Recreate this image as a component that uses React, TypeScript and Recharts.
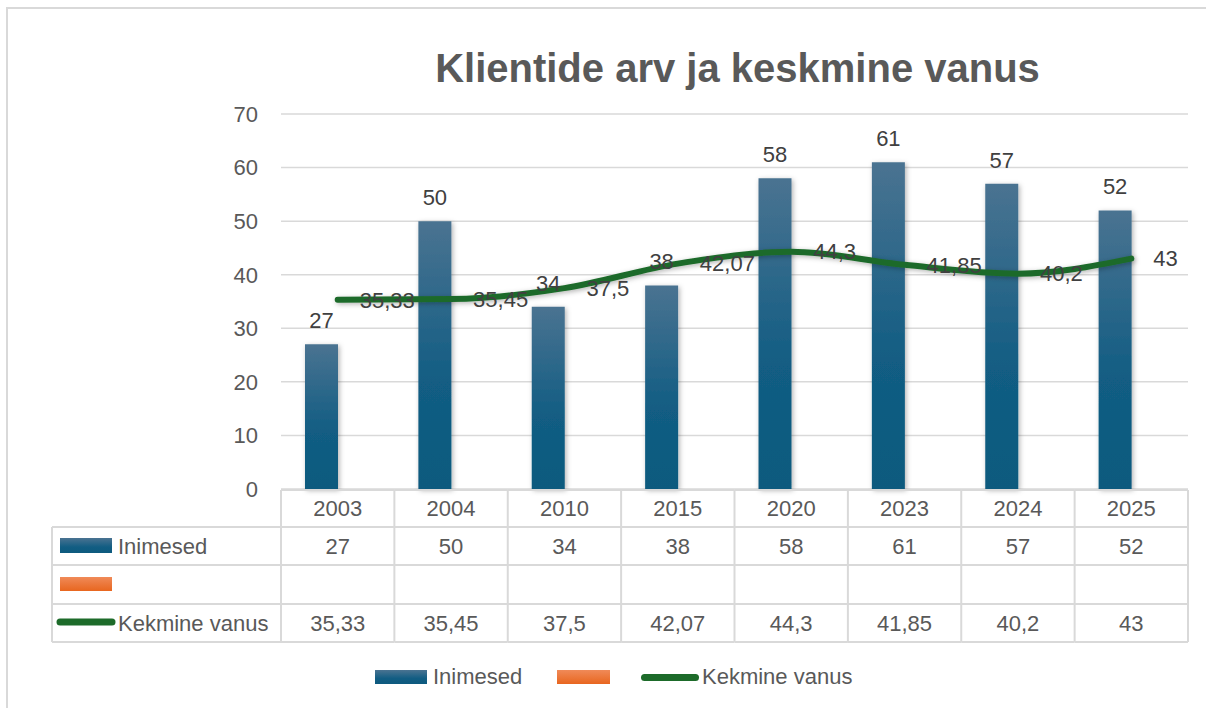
import { ComposedChart, Bar, Line, XAxis, YAxis, CartesianGrid, LabelList, Legend } from 'recharts';

const years = ['2003', '2004', '2010', '2015', '2020', '2023', '2024', '2025'];
const inimesed = [27, 50, 34, 38, 58, 61, 57, 52];
const tyhi = [null, null, null, null, null, null, null, null];
const keskmineVanus = [35.33, 35.45, 37.5, 42.07, 44.3, 41.85, 40.2, 43];
const yTicks = [0, 10, 20, 30, 40, 50, 60, 70];
const seriesNames = ['Inimesed', '', 'Kekmine vanus'];

const data = years.map((year, i) => ({
    year,
    inimesed: inimesed[i],
    tyhi: tyhi[i],
    vanus: keskmineVanus[i],
}));

const W = 1206;
const H = 708;
const PLOT_LEFT = 281;
const PLOT_RIGHT = 1188;
const COL = (PLOT_RIGHT - PLOT_LEFT) / years.length;
const ROWS = [0, 37, 75, 114, 152];
const GRID = '#d9d9d9';
const TEXT = '#595959';
const LABEL = '#404040';
const GREEN = '#1d6b2a';
const FONT = '"Liberation Sans", Arial, sans-serif';
const FS = 22;

const fmt = (v: any) => String(v).replace('.', ',');

const TableTick = (props: any) => {
    const { x, y, payload, index } = props;
    const i = payload?.index ?? index;
    const top = y + 1;
    const left = x - COL / 2;
    const right = x + COL / 2;
    const last = i === years.length - 1;
    const cellText = (txt: string, cy: number) => (
        <text x={x} y={cy} dy="0.35em" textAnchor="middle" fontSize={FS} fill={TEXT}>{txt}</text>
    );
    return (
        <g>
            {ROWS.map((r) => (
                <line key={`h${r}`} x1={left} x2={right} y1={top + r} y2={top + r} stroke={GRID} strokeWidth={2} />
            ))}
            <line x1={left} x2={left} y1={top} y2={top + ROWS[4]} stroke={GRID} strokeWidth={2} />
            {last && <line x1={right} x2={right} y1={top} y2={top + ROWS[4]} stroke={GRID} strokeWidth={2} />}
            {cellText(years[i], top + 18)}
            {cellText(fmt(inimesed[i]), top + 56)}
            {cellText(tyhi[i] == null ? '' : fmt(tyhi[i]), top + 95)}
            {cellText(fmt(keskmineVanus[i]), top + 133)}
            {i === 0 && (
                <g>
                    {ROWS.slice(1).map((r) => (
                        <line key={`l${r}`} x1={52} x2={left} y1={top + r} y2={top + r} stroke={GRID} strokeWidth={2} />
                    ))}
                    <line x1={52} x2={52} y1={top + ROWS[1]} y2={top + ROWS[4]} stroke={GRID} strokeWidth={2} />
                    <rect x={60} y={top + 48} width={52} height={15} fill="url(#blueGrad)" />
                    <text x={118} y={top + 56} dy="0.35em" fontSize={FS} fill={TEXT}>{seriesNames[0]}</text>
                    <rect x={60} y={top + 87} width={52} height={14} fill="url(#orangeGrad)" />
                    <line x1={60} x2={112} y1={top + 132} y2={top + 132} stroke={GREEN} strokeWidth={7} strokeLinecap="round" />
                    <text x={118} y={top + 133} dy="0.35em" fontSize={FS} fill={TEXT}>{seriesNames[2]}</text>
                </g>
            )}
        </g>
    );
};

const LegendBox = () => (
    <div style={{ position: 'relative', width: W, height: 30, fontFamily: FONT, fontSize: FS, color: TEXT }}>
        <div style={{ position: 'absolute', left: 375, top: 8, width: 52, height: 14, background: 'linear-gradient(#4a7391, #125d83 60%, #0d5a7e)' }} />
        <div style={{ position: 'absolute', left: 433, top: 2, lineHeight: '26px' }}>{seriesNames[0]}</div>
        <div style={{ position: 'absolute', left: 557, top: 8, width: 53, height: 14, background: 'linear-gradient(#f08a58, #e8661f)' }} />
        <div style={{ position: 'absolute', left: 641, top: 12, width: 58, height: 7, borderRadius: 4, background: GREEN }} />
        <div style={{ position: 'absolute', left: 702, top: 2, lineHeight: '26px' }}>{seriesNames[2]}</div>
    </div>
);

export default function App() {
    return (
        <div style={{ position: 'absolute', left: 0, top: 0, width: W, height: H, overflow: 'hidden', background: '#fff', fontFamily: FONT }}>
            <div style={{ position: 'absolute', left: 6, top: 7, width: W + 20, height: H + 20, border: `2px solid ${GRID}` }} />
            <div style={{ position: 'absolute', left: PLOT_LEFT, width: PLOT_RIGHT - PLOT_LEFT + 6, top: 48, textAlign: 'center', fontSize: 40, lineHeight: '40px', fontWeight: 'bold', color: TEXT }}>
                Klientide arv ja keskmine vanus
            </div>
            <ComposedChart
                width={W}
                height={H}
                data={data}
                margin={{ top: 114, right: W - PLOT_RIGHT, left: PLOT_LEFT - 60, bottom: 29 }}
                barSize={33}
                barGap={0}
                style={{ position: 'absolute', left: 0, top: 0 }}
            >
                <defs>
                    <linearGradient id="blueGrad" x1="0" y1="0" x2="0" y2="1">
                        <stop offset="0%" stopColor="#4a7391" />
                        <stop offset="60%" stopColor="#125d83" />
                        <stop offset="100%" stopColor="#0d5a7e" />
                    </linearGradient>
                    <linearGradient id="orangeGrad" x1="0" y1="0" x2="0" y2="1">
                        <stop offset="0%" stopColor="#f08a58" />
                        <stop offset="100%" stopColor="#e8661f" />
                    </linearGradient>
                    <filter id="shadow" x="-30%" y="-10%" width="160%" height="130%">
                        <feDropShadow dx={1.5} dy={1.5} stdDeviation={2.5} floodColor="#000" floodOpacity={0.3} />
                    </filter>
                </defs>
                <CartesianGrid vertical={false} stroke={GRID} strokeWidth={1.5} />
                <XAxis dataKey="year" type="category" interval={0} axisLine={false} tickLine={false} tickSize={0} tickMargin={0} height={160} tick={<TableTick />} />
                <YAxis domain={[0, 70]} ticks={yTicks} width={60} axisLine={false} tickLine={false} tickSize={0} tickMargin={23} tick={{ fontSize: FS, fill: TEXT }} />
                <Legend verticalAlign="bottom" height={30} content={<LegendBox />} wrapperStyle={{ left: 0, top: 662, width: W, height: 30 }} />
                <Bar dataKey="inimesed" name={seriesNames[0]} fill="url(#blueGrad)" filter="url(#shadow)" isAnimationActive={false}>
                    <LabelList dataKey="inimesed" position="top" offset={16} fontSize={FS} fill={LABEL} />
                </Bar>
                <Bar dataKey="tyhi" name={seriesNames[1]} fill="url(#orangeGrad)" isAnimationActive={false} />
                <Line dataKey="vanus" name={seriesNames[2]} type="monotone" stroke={GREEN} strokeWidth={6} strokeLinecap="round" dot={false} activeDot={false} filter="url(#shadow)" isAnimationActive={false}>
                    <LabelList dataKey="vanus" position="right" offset={22} fontSize={FS} fill={LABEL} formatter={fmt} />
                </Line>
            </ComposedChart>
        </div>
    );
}
